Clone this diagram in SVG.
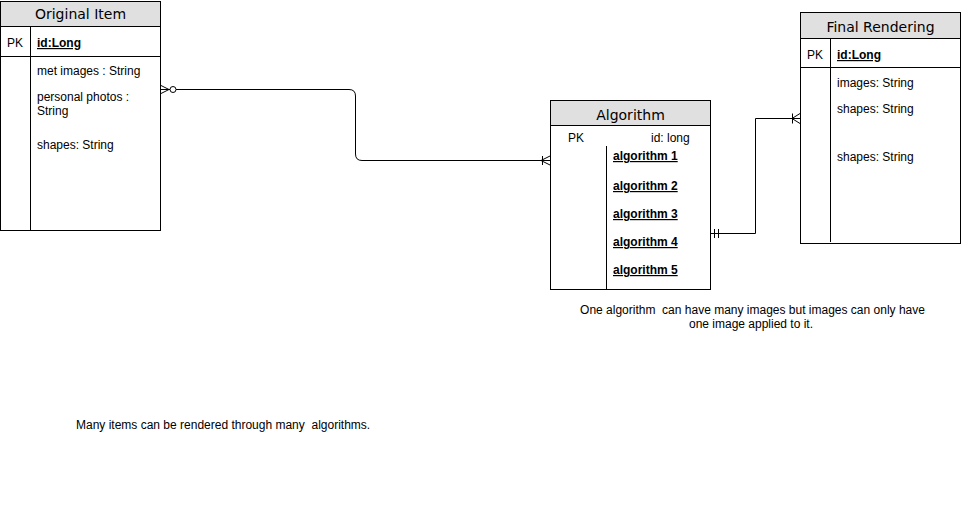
<svg xmlns="http://www.w3.org/2000/svg" width="961" height="509" viewBox="0 0 961 509">
<style>
.box{fill:#fff;stroke:#000;stroke-width:1}
.hdr{fill:#e0e0e0;stroke:#000;stroke-width:1}
.ln{stroke:#000;stroke-width:1;fill:none}
.ttl{font-family:"DejaVu Sans",Verdana,sans-serif;font-size:14px;text-anchor:middle;fill:#000}
.t{font-family:"Liberation Sans",Arial,sans-serif;font-size:12px;fill:#000}
.b{font-weight:bold;text-decoration:underline}
.c{text-anchor:middle}
</style>
<rect width="961" height="509" fill="#fff"/>
<g id="connectors">
<path class="ln" d="M160,89.5 H349 Q355.5,89.5 355.5,96 V154 Q355.5,160.5 362,160.5 H550"/>
<path class="ln" d="M160,85 L169,89.5 L160,94"/>
<circle cx="173" cy="89.5" r="3" fill="#fff" stroke="#000"/>
<path class="ln" d="M550,156 L541,160.5 L550,165 M542.5,156 V165"/>
<path class="ln" d="M710,233.5 H755.5 V118.5 H800"/>
<path class="ln" d="M714.5,229 V238 M718.5,229 V238"/>
<path class="ln" d="M800,113.5 L792,118.5 L800,123.5 M792.5,113.5 V123.5"/>
</g>
<g id="original-item">
<rect class="box" x="0.5" y="1.5" width="160" height="229"/>
<rect class="hdr" x="0.5" y="1.5" width="160" height="25"/>
<line class="ln" x1="0.5" y1="56.5" x2="160.5" y2="56.5"/>
<line class="ln" x1="30.5" y1="26.5" x2="30.5" y2="230.5"/>
<text class="ttl" x="80.5" y="19">Original Item</text>
<text class="t" x="7" y="47">PK</text>
<text class="t b" x="37" y="47">id:Long</text>
<text class="t" x="37" y="75">met images : String</text>
<text class="t" x="37" y="101">personal photos :</text>
<text class="t" x="37" y="115">String</text>
<text class="t" x="37" y="149">shapes: String</text>
</g>
<g id="algorithm">
<rect class="box" x="550.5" y="100.5" width="160" height="189"/>
<rect class="hdr" x="550.5" y="100.5" width="160" height="25"/>
<line class="ln" x1="606.5" y1="146" x2="606.5" y2="289.5"/>
<text class="ttl" x="630.5" y="120">Algorithm</text>
<text class="t" x="568" y="142">PK</text>
<text class="t" x="651" y="142">id: long</text>
<text class="t b" x="613" y="160">algorithm 1</text>
<text class="t b" x="613" y="190">algorithm 2</text>
<text class="t b" x="613" y="218">algorithm 3</text>
<text class="t b" x="613" y="246">algorithm 4</text>
<text class="t b" x="613" y="274">algorithm 5</text>
</g>
<g id="final-rendering">
<rect class="box" x="800.5" y="12.5" width="160" height="231"/>
<rect class="hdr" x="800.5" y="12.5" width="160" height="26"/>
<line class="ln" x1="800.5" y1="67.5" x2="960.5" y2="67.5"/>
<line class="ln" x1="830.5" y1="38.5" x2="830.5" y2="242"/>
<text class="ttl" x="880.5" y="32">Final Rendering</text>
<text class="t" x="807" y="59">PK</text>
<text class="t b" x="837" y="59">id:Long</text>
<text class="t" x="837" y="87">images: String</text>
<text class="t" x="837" y="113">shapes: String</text>
<text class="t" x="837" y="161">shapes: String</text>
</g>
<g id="notes">
<text class="t c" x="752.5" y="314" xml:space="preserve">One algorithm  can have many images but images can only have</text>
<text class="t c" x="751" y="328">one image applied to it.</text>
<text class="t" x="76" y="429" xml:space="preserve">Many items can be rendered through many  algorithms.</text>
</g>
</svg>
